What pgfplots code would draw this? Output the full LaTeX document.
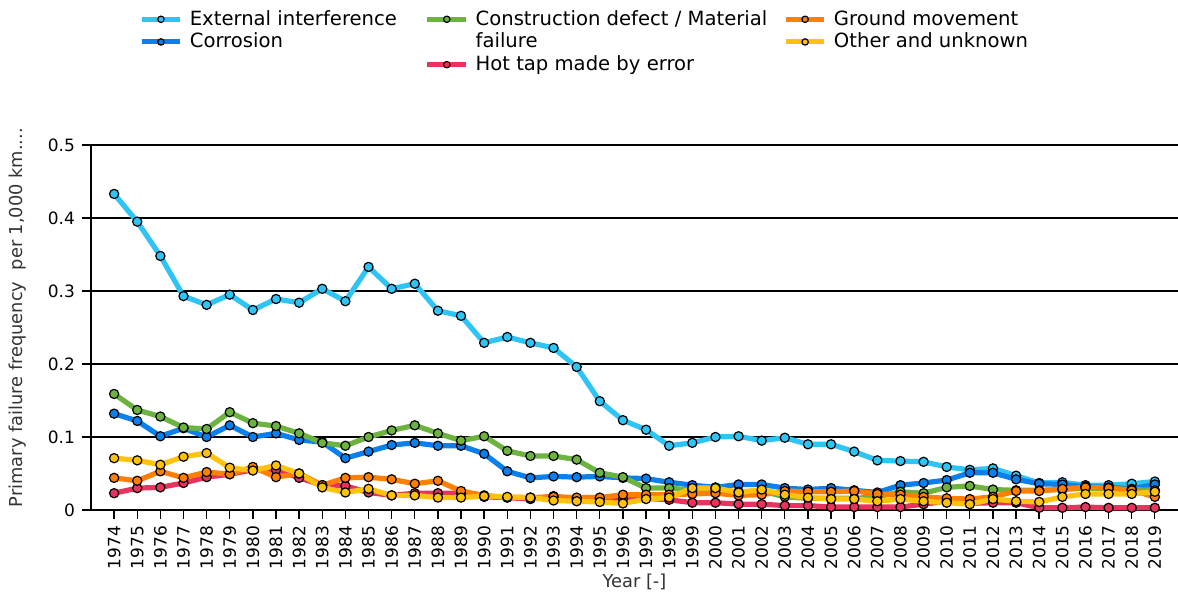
\documentclass[border=0pt]{standalone}
\usepackage{fontspec}
\setmainfont{DejaVu Sans}
\usepackage{pgfplots}
\pgfplotsset{compat=1.18}
\usepackage{pgfplotstable}
\definecolor{cExt}{HTML}{2EC4F5}
\definecolor{cCor}{HTML}{0A80EE}
\definecolor{cCon}{HTML}{6DB33F}
\definecolor{cHot}{HTML}{E8335E}
\definecolor{cGro}{HTML}{FF7F00}
\definecolor{cOth}{HTML}{FFC20A}
\pgfplotstableread{
year ext cor con hot gro oth
1974 0.433 0.132 0.159 0.023 0.044 0.071
1975 0.395 0.122 0.137 0.030 0.040 0.068
1976 0.348 0.101 0.128 0.031 0.053 0.062
1977 0.293 0.112 0.113 0.037 0.044 0.073
1978 0.281 0.100 0.111 0.045 0.052 0.078
1979 0.295 0.116 0.134 0.049 0.049 0.058
1980 0.274 0.100 0.119 0.055 0.059 0.054
1981 0.289 0.105 0.115 0.055 0.045 0.061
1982 0.284 0.096 0.105 0.044 0.050 0.050
1983 0.303 0.093 0.092 0.034 0.034 0.031
1984 0.286 0.071 0.088 0.033 0.044 0.024
1985 0.333 0.080 0.100 0.024 0.045 0.029
1986 0.303 0.089 0.109 0.020 0.042 0.020
1987 0.310 0.092 0.116 0.023 0.036 0.020
1988 0.273 0.088 0.105 0.023 0.040 0.017
1989 0.266 0.088 0.095 0.023 0.026 0.017
1990 0.229 0.077 0.101 0.018 0.020 0.019
1991 0.237 0.053 0.081 0.017 0.017 0.018
1992 0.229 0.044 0.074 0.015 0.017 0.017
1993 0.222 0.046 0.074 0.019 0.018 0.013
1994 0.196 0.045 0.069 0.015 0.017 0.012
1995 0.149 0.046 0.051 0.015 0.017 0.011
1996 0.123 0.044 0.045 0.015 0.021 0.009
1997 0.110 0.043 0.030 0.016 0.021 0.015
1998 0.088 0.038 0.030 0.014 0.021 0.017
1999 0.092 0.034 0.027 0.010 0.022 0.030
2000 0.100 0.031 0.027 0.010 0.023 0.030
2001 0.101 0.035 0.025 0.008 0.020 0.024
2002 0.095 0.035 0.026 0.008 0.021 0.028
2003 0.099 0.030 0.018 0.006 0.026 0.021
2004 0.090 0.028 0.016 0.006 0.025 0.017
2005 0.090 0.030 0.016 0.004 0.025 0.015
2006 0.080 0.027 0.016 0.004 0.026 0.015
2007 0.068 0.024 0.018 0.004 0.022 0.012
2008 0.067 0.034 0.025 0.004 0.021 0.015
2009 0.066 0.037 0.023 0.008 0.018 0.012
2010 0.059 0.041 0.031 0.012 0.016 0.010
2011 0.055 0.051 0.033 0.009 0.015 0.008
2012 0.057 0.051 0.028 0.010 0.018 0.015
2013 0.047 0.042 0.027 0.010 0.026 0.012
2014 0.037 0.036 0.027 0.003 0.026 0.011
2015 0.038 0.035 0.028 0.003 0.029 0.018
2016 0.034 0.032 0.030 0.004 0.031 0.022
2017 0.034 0.031 0.029 0.003 0.030 0.022
2018 0.036 0.029 0.028 0.003 0.027 0.022
2019 0.039 0.035 0.027 0.003 0.018 0.025
}\data
\begin{document}
\begin{tikzpicture}
\begin{axis}[
  scale only axis, width=543.5pt, height=182.5pt,
  xmin=1973, xmax=2020, ymin=0, ymax=0.5,
  axis x line*=bottom, axis y line*=left,
  axis line style={black, line width=0.8pt, -},
  xtick={1974,...,2019},
  ytick={0,0.1,0.2,0.3,0.4,0.5},
  yticklabels={0,0.1,0.2,0.3,0.4,0.5},
  xticklabel style={rotate=90, anchor=east, font=\fontsize{8.5}{10}\selectfont},
  yticklabel style={font=\fontsize{8.5}{10}\selectfont},
  /pgf/number format/1000 sep={},
  /pgf/number format/assume math mode=true,
  tick align=outside, major tick length=4.5pt,
  tick style={black, line width=0.7pt},
  ymajorgrids, grid style={black, line width=0.7pt},
  xlabel={Year [-]},
  ylabel={Primary failure frequency\ \ per 1,000 km....},
  label style={font=\fontsize{8.9}{10}\selectfont, text=black!80},
  ylabel style={at={(axis description cs:-0.0672,0.527)}, anchor=center},
  xlabel style={at={(axis description cs:0.5,0)}, anchor=center, yshift=-36pt},
  clip=false,
  every axis plot/.append style={line width=2.6pt, mark=*, mark size=2.3pt, line join=round},
  legend style={at={(rel axis cs:0.455,1.392)}, anchor=north, draw=none,
    font=\fontsize{9.8}{11}\selectfont, column sep=1.5pt, row sep=-1.6pt,
    /tikz/column 2/.style={column sep=12pt},
    /tikz/column 4/.style={column sep=6pt}},
  legend columns=3,
  legend cell align=left,
  legend image code/.code={
    \draw[#1, line width=2.5pt] (0cm,0cm) -- (0.68cm,0cm);
    \draw[#1, mark size=1.6pt] plot coordinates {(0.34cm,0cm)};
  },
]
\addlegendimage{cExt, mark=*, mark options={fill=cExt, draw=black, line width=0.6pt}}
\addlegendentry{External interference}
\addlegendimage{cCon, mark=*, mark options={fill=cCon, draw=black, line width=0.6pt}}
\addlegendentry{Construction defect / Material}
\addlegendimage{cGro, mark=*, mark options={fill=cGro, draw=black, line width=0.6pt}}
\addlegendentry{Ground movement}
\addlegendimage{cCor, mark=*, mark options={fill=cCor, draw=black, line width=0.6pt}}
\addlegendentry{Corrosion}
\addlegendimage{legend image code/.code={}}
\addlegendentry{failure}
\addlegendimage{cOth, mark=*, mark options={fill=cOth, draw=black, line width=0.6pt}}
\addlegendentry{Other and unknown}
\addlegendimage{legend image code/.code={}}
\addlegendentry{}
\addlegendimage{cHot, mark=*, mark options={fill=cHot, draw=black, line width=0.6pt}}
\addlegendentry{Hot tap made by error}
\addlegendimage{legend image code/.code={}}
\addlegendentry{}

\addplot[cExt, mark options={fill=cExt, draw=black, line width=0.6pt}, forget plot] table[x=year, y=ext] {\data};
\addplot[cCor, mark options={fill=cCor, draw=black, line width=0.6pt}, forget plot] table[x=year, y=cor] {\data};
\addplot[cCon, mark options={fill=cCon, draw=black, line width=0.6pt}, forget plot] table[x=year, y=con] {\data};
\addplot[cHot, mark options={fill=cHot, draw=black, line width=0.6pt}, forget plot] table[x=year, y=hot] {\data};
\addplot[cGro, mark options={fill=cGro, draw=black, line width=0.6pt}, forget plot] table[x=year, y=gro] {\data};
\addplot[cOth, mark options={fill=cOth, draw=black, line width=0.6pt}, forget plot] table[x=year, y=oth] {\data};
\end{axis}
\pgfresetboundingbox
\path (-45.5pt,-42pt) rectangle (543.5pt,255pt);
\end{tikzpicture}
\end{document}
